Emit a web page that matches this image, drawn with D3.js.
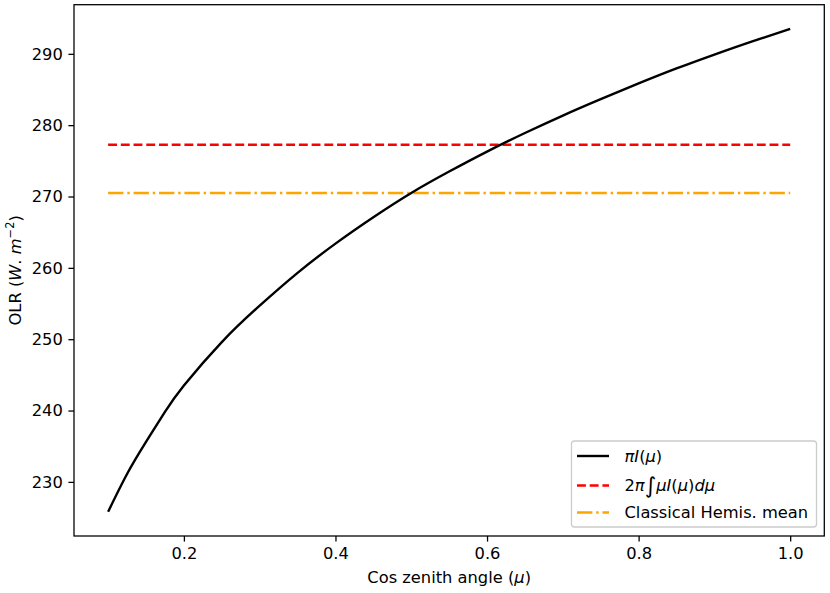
<!DOCTYPE html>
<html><head><meta charset="utf-8">
<script src="https://cdn.jsdelivr.net/npm/d3@7"></script>
<style>body{margin:0;background:#fff} text{font-family:"DejaVu Sans",sans-serif;fill:#000}</style>
</head><body><svg id="c" width="830" height="593"></svg>
<script>
// ---- data ----
const mu = [0.10, 0.125, 0.15, 0.175, 0.20, 0.25, 0.30, 0.35, 0.40, 0.45, 0.50,
            0.55, 0.60, 0.65, 0.70, 0.75, 0.80, 0.85, 0.90, 0.95, 1.00];
const piI = [225.8, 231.1, 235.6, 239.8, 243.5, 249.6, 254.7, 259.3, 263.4, 267.1, 270.5,
             273.5, 276.3, 278.9, 281.35, 283.65, 285.85, 287.95, 289.9, 291.75, 293.5];
const integralValue = 277.25;   // 2π∫μI(μ)dμ
const hemisMean = 270.5;        // Classical Hemis. mean
const xTicks = [0.2, 0.4, 0.6, 0.8, 1.0];
const yTicks = [230, 240, 250, 260, 270, 280, 290];

const svg = d3.select("#c");
const L = 74, R = 824.3, T = 4.7, B = 536;
const pt = 1.6;

const xmin = d3.min(mu), xmax = d3.max(mu);
const ymin = d3.min([...piI, integralValue, hemisMean]), ymax = d3.max([...piI, integralValue, hemisMean]);
const mx = (xmax - xmin) * 0.05, my = (ymax - ymin) * 0.05;
const x = d3.scaleLinear().domain([xmin - mx, xmax + mx]).range([L, R]);
const y = d3.scaleLinear().domain([ymin - my, ymax + my]).range([B, T]);

const g = svg.append("g");
const line = d3.line().x(d => x(d[0])).y(d => y(d[1]));
const ends = [xmin, xmax];

// lines
g.append("path").datum(ends.map(m => [m, hemisMean]))
  .attr("d", line).attr("fill", "none").attr("stroke", "#ffa500").attr("stroke-width", 1.5*pt)
  .attr("stroke-dasharray", [9.6*pt, 2.4*pt, 1.5*pt, 2.4*pt].join(","));
g.append("path").datum(ends.map(m => [m, integralValue]))
  .attr("d", line).attr("fill", "none").attr("stroke", "#ff0000").attr("stroke-width", 1.5*pt)
  .attr("stroke-dasharray", [5.55*pt, 2.4*pt].join(","));
g.append("path").datum(mu.map((m, i) => [m, piI[i]]))
  .attr("d", d3.line().x(d => x(d[0])).y(d => y(d[1])).curve(d3.curveNatural))
  .attr("fill", "none").attr("stroke", "#000")
  .attr("stroke-width", 1.5*pt).attr("stroke-linejoin", "round");

// axes
const fs = 16.3;
const xAxis = svg.append("g").attr("transform", `translate(0,${B})`)
  .call(d3.axisBottom(x).tickValues(xTicks).tickFormat(d3.format(".1f")).tickSize(3.5*pt).tickPadding(3.5*pt));
const yAxis = svg.append("g").attr("transform", `translate(${L},0)`)
  .call(d3.axisLeft(y).tickValues(yTicks).tickFormat(d3.format("d")).tickSize(3.5*pt).tickPadding(3.5*pt));
[xAxis, yAxis].forEach(a => {
  a.select(".domain").remove();
  a.selectAll("line").attr("stroke", "#000").attr("stroke-width", 0.8*pt);
  a.selectAll("text").attr("font-size", fs).attr("font-family", "DejaVu Sans");
});
// spines
svg.append("rect").attr("x", L).attr("y", T).attr("width", R - L).attr("height", B - T)
  .attr("fill", "none").attr("stroke", "#000").attr("stroke-width", 0.8*pt);

// axis labels
const xl = svg.append("text").attr("x", (L + R) / 2).attr("y", 583).attr("text-anchor", "middle").attr("font-size", fs);
xl.append("tspan").text("Cos zenith angle (");
xl.append("tspan").attr("font-style", "italic").text("μ");
xl.append("tspan").text(")");

const yl = svg.append("text").attr("transform", `translate(21,${(T + B) / 2}) rotate(-90)`)
  .attr("text-anchor", "middle").attr("font-size", fs).attr("xml:space", "preserve");
yl.append("tspan").text("OLR (");
yl.append("tspan").attr("font-style", "italic").text("W");
yl.append("tspan").text(". ");
yl.append("tspan").attr("font-style", "italic").text("m");
yl.append("tspan").attr("font-size", fs * 0.7).attr("dy", -7).text("−2");
yl.append("tspan").attr("dy", 7).text(")");

// legend
const lg = svg.append("g");
lg.append("rect").attr("x", 571.5).attr("y", 441).attr("width", 245).attr("height", 86).attr("rx", 3)
  .attr("fill", "#fff").attr("fill-opacity", 0.8).attr("stroke", "#cccccc").attr("stroke-width", 1.3);
const rows = [
  {y: 456, color: "#000", dash: null, parts: [["π", 1], ["I", 1], ["(", 0], ["μ", 1], [")", 0]]},
  {y: 485.5, color: "#ff0000", dash: [5.55*pt, 2.4*pt], parts: [["2", 0], ["π", 1], ["∫", 2], ["μ", 1], ["I", 1], ["(", 0], ["μ", 1], [")", 0], ["d", 1], ["μ", 1]]},
  {y: 512.5, color: "#ffa500", dash: [9.6*pt, 2.4*pt, 1.5*pt, 2.4*pt], parts: [["Classical Hemis. mean", 0]]}
];
rows.forEach(r => {
  const l = lg.append("line").attr("x1", 577).attr("x2", 609).attr("y1", r.y).attr("y2", r.y)
    .attr("stroke", r.color).attr("stroke-width", 1.5*pt);
  if (r.dash) l.attr("stroke-dasharray", r.dash.join(","));
  const t = lg.append("text").attr("x", 624.5).attr("y", r.y + 5.8).attr("font-size", fs);
  let shifted = false;
  r.parts.forEach(p => {
    const s = t.append("tspan").text(p[0]);
    if (p[1] === 1) s.attr("font-style", "italic");
    if (p[1] === 2) { s.attr("font-size", fs * 1.35).attr("dy", 2); shifted = true; }
    else if (shifted) { s.attr("dy", -2); shifted = false; }
  });
});
</script></body></html>
